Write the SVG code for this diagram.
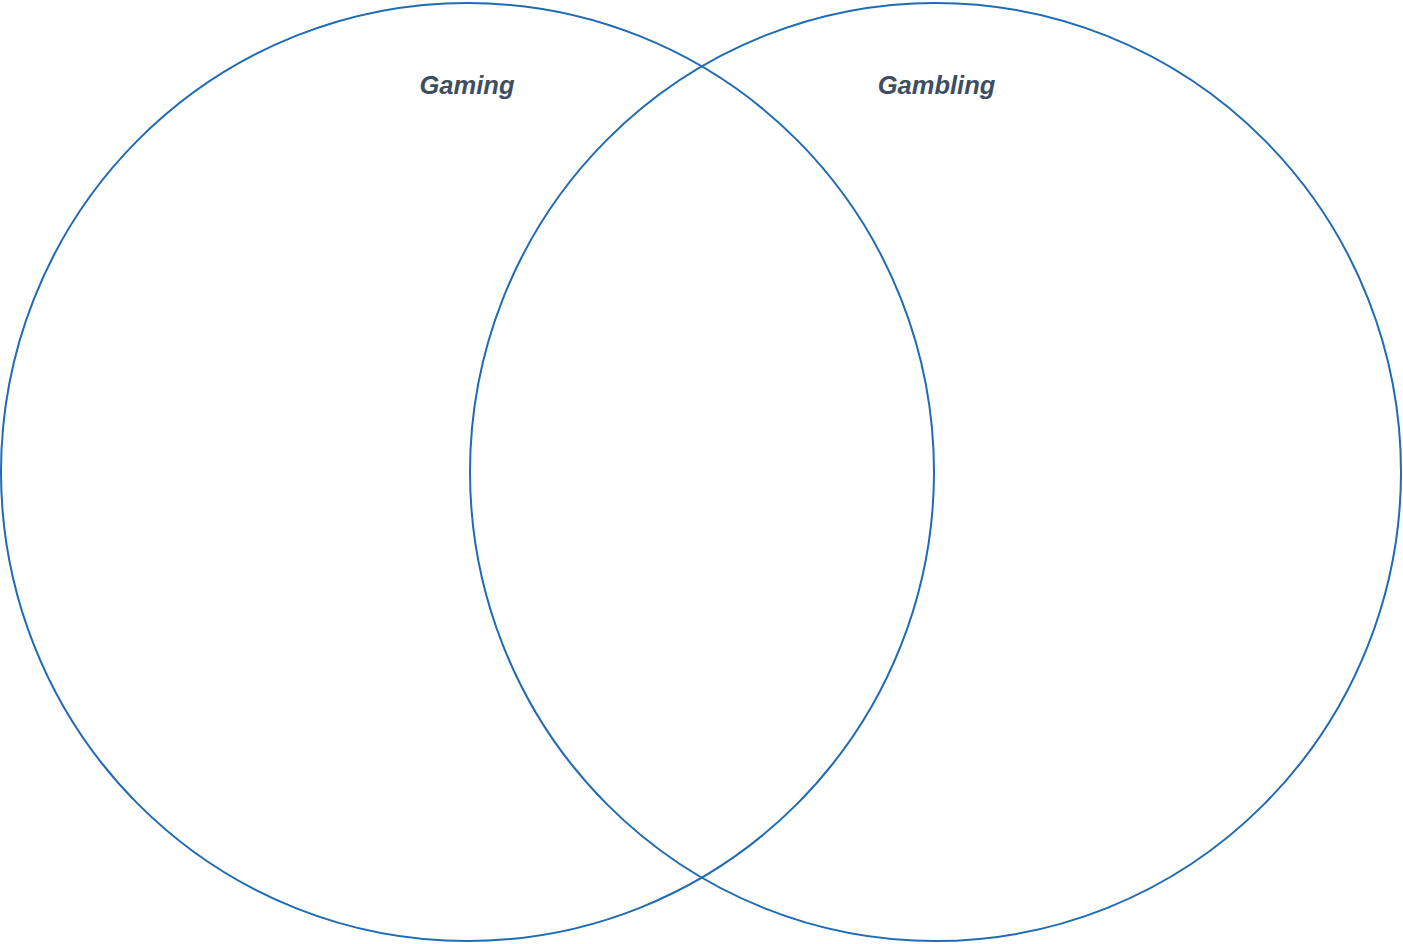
<svg xmlns="http://www.w3.org/2000/svg" width="1403" height="944" viewBox="0 0 1403 944">
<style>
.c{fill:none;stroke:#1f6bb5;stroke-width:2}
.t{font-family:"Liberation Sans",Arial,sans-serif;font-size:25.5px;font-weight:bold;font-style:italic;fill:#3d4e62;text-anchor:middle}
</style>
<rect width="1403" height="944" fill="#fff"/>
<g id="gaming">
<ellipse class="c" cx="467.5" cy="472" rx="466.5" ry="469"/>
<text class="t" x="467" y="94">Gaming</text>
</g>
<g id="gambling">
<ellipse class="c" cx="935.5" cy="472" rx="465.5" ry="469"/>
<text class="t" x="936.5" y="94">Gambling</text>
</g>
<g id="connectors"></g>
</svg>
